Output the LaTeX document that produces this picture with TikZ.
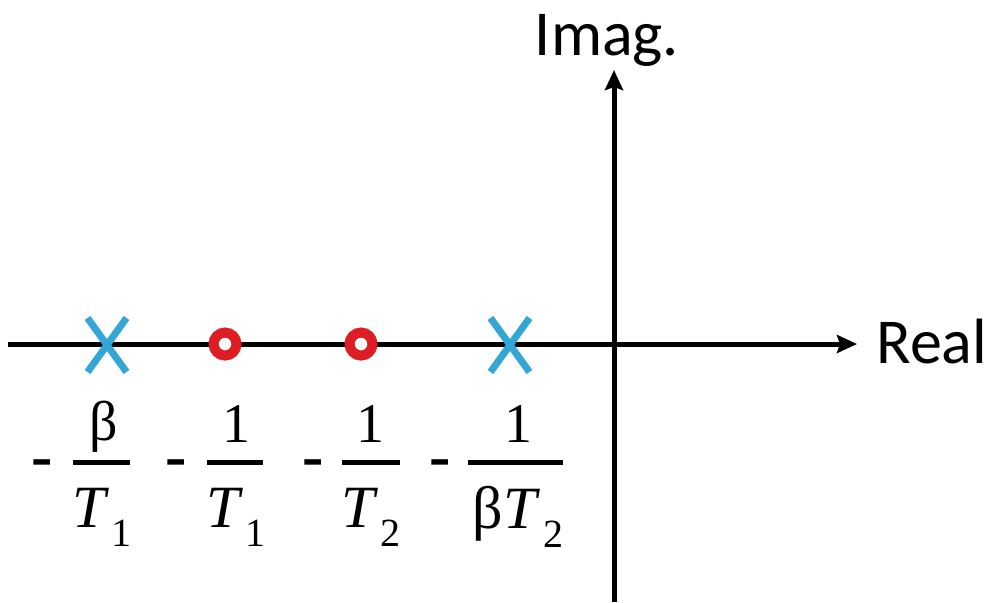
\documentclass[tikz,border=0pt]{standalone}
\usepackage{fontspec}
\setmainfont{Liberation Serif}
\newfontfamily\axisfont{Carlito}
\usetikzlibrary{arrows.meta,shapes.misc}
\definecolor{xblue}{RGB}{52,166,214}
\definecolor{ored}{RGB}{221,28,36}
\begin{document}
\begin{tikzpicture}[x=0.5pt,y=-0.5pt,
  axisline/.style={line width=2.5pt,-{Stealth[length=10pt,width=9pt,inset=1.5pt]}},
  axislabel/.style={font=\axisfont\fontsize{32}{32}\selectfont,inner sep=0},
  polemark/.style={cross out,draw=xblue,line width=3.5pt,minimum width=16pt,minimum height=23.5pt,inner sep=0},
  zeromark/.style={circle,draw=ored,fill=white,line width=5pt,minimum size=11.5pt,inner sep=0},
  minussign/.style={anchor=base,inner sep=0,font=\fontsize{32}{32}\selectfont\bfseries},
  numbeta/.style={anchor=base,inner sep=0,font=\fontsize{28}{28}\selectfont},
  numone/.style={anchor=base,inner sep=0,font=\fontsize{28}{28}\selectfont},
  denom/.style={anchor=base,inner sep=0,font=\fontsize{30}{30}\selectfont},
  fbar/.style={line width=2.5pt}]
\useasboundingbox (0,0) rectangle (996,602);
% axes
\coordinate (hl) at (8,344);
\coordinate (hr) at (857,344);
\coordinate (vb) at (614,602);
\coordinate (vt) at (614,70);
\draw[axisline] (hl) -- (hr);
\draw[axisline] (vb) -- (vt);
\node[axislabel,anchor=base] (imag) at (607,55) {Imag.};
\node[axislabel,anchor=base west] (real) at (876,363) {Real};
% poles and zeros
\node[polemark] (p1) at (107,345) {};
\node[polemark] (p2) at (510,345) {};
\node[zeromark] (z1) at (225,344) {};
\node[zeromark] (z2) at (361,344) {};
% labels
\newcommand{\subdigit}[1]{\kern1.5pt\raisebox{-9.5pt}{\fontsize{20}{20}\selectfont #1}}
\node[minussign] (m1) at (42,477) {-};
\node[minussign] (m2) at (176,477) {-};
\node[minussign] (m3) at (313,477) {-};
\node[minussign] (m4) at (440,477) {-};
\draw[fbar] (73,462) -- (130,462);
\draw[fbar] (207,462) -- (263,462);
\draw[fbar] (342,462) -- (400,462);
\draw[fbar] (468,462) -- (563,462);
\node[numbeta] (n1) at (104,440) {β};
\node[numone] (n2) at (236,442) {1};
\node[numone] (n3) at (370,442) {1};
\node[numone] (n4) at (518,442) {1};
\node[denom] (d1) at (102,527) {\textit{T}\subdigit{1}};
\node[denom] (d2) at (236,527) {\textit{T}\subdigit{1}};
\node[denom] (d3) at (371,527) {\textit{T}\subdigit{2}};
\node[denom] (d4) at (518,528) {β\textit{T}\subdigit{2}};
\end{tikzpicture}
\end{document}
